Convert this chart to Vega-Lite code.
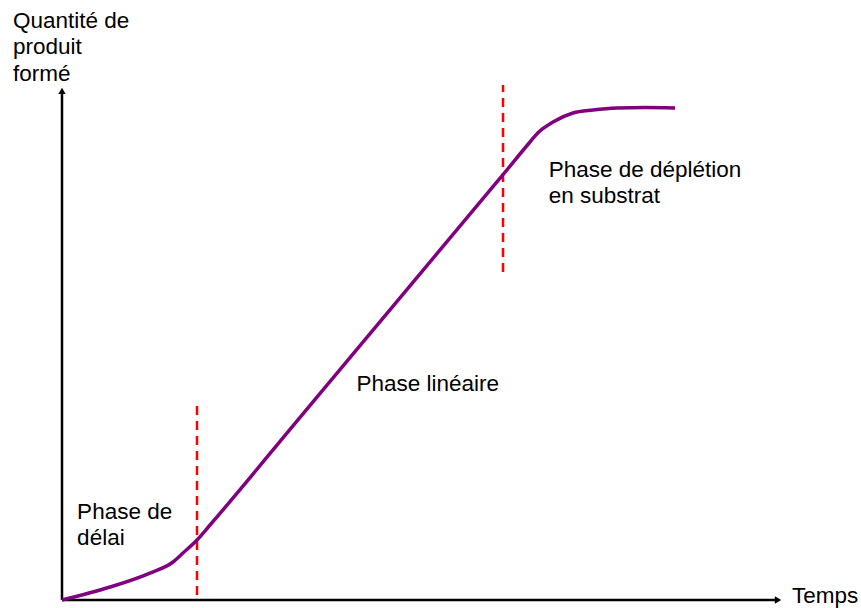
{
  "$schema": "https://vega.github.io/schema/vega-lite/v6.json",
  "width": 861,
  "height": 608,
  "padding": 0,
  "autosize": {"type": "fit", "contains": "padding"},
  "config": {"view": {"stroke": null}, "background": "white"},
  "datasets": {
    "curve": [
      {"t": 0, "q": 0},
      {"t": 6.67, "q": 2.53},
      {"t": 12.22, "q": 5.26},
      {"t": 15.42, "q": 7.41},
      {"t": 16.81, "q": 9.16},
      {"t": 18.75, "q": 11.7},
      {"t": 20.56, "q": 14.62},
      {"t": 33.06, "q": 35.6},
      {"t": 46.94, "q": 58.91},
      {"t": 61.25, "q": 82.92},
      {"t": 65.0, "q": 89.28},
      {"t": 66.11, "q": 91.1},
      {"t": 68.19, "q": 93.18},
      {"t": 70.97, "q": 94.93},
      {"t": 73.75, "q": 95.52},
      {"t": 77.08, "q": 95.91},
      {"t": 80.97, "q": 96.0},
      {"t": 85.14, "q": 95.91}
    ],
    "phases": [
      {"t": 18.75, "q": 0.97, "q2": 38.01},
      {"t": 61.25, "q": 63.94, "q2": 100.39}
    ],
    "axes": [
      {"t": 0, "q": 0, "t2": 99.2, "q2": 0},
      {"t": 0, "q": 0, "t2": 0, "q2": 98.8}
    ],
    "arrows": [
      {"t": 99.45, "q": 0, "shape": "triangle-right"},
      {"t": 0, "q": 99.25, "shape": "triangle-up"}
    ],
    "labels": [
      {"t": -6.8, "q": 111.5, "label": "Quantité de"},
      {"t": -6.8, "q": 106.4, "label": "produit"},
      {"t": -6.8, "q": 101.2, "label": "formé"},
      {"t": 2.1, "q": 15.8, "label": "Phase de"},
      {"t": 2.1, "q": 10.7, "label": "délai"},
      {"t": 40.9, "q": 40.8, "label": "Phase linéaire"},
      {"t": 67.6, "q": 82.4, "label": "Phase de déplétion"},
      {"t": 67.6, "q": 77.4, "label": "en substrat"},
      {"t": 101.4, "q": -0.65, "label": "Temps"}
    ]
  },
  "encoding": {
    "x": {"field": "t", "type": "quantitative", "scale": {"domain": [-8.611, 110.97], "nice": false, "zero": false}, "axis": null},
    "y": {"field": "q", "type": "quantitative", "scale": {"domain": [-1.559, 116.96], "nice": false, "zero": false}, "axis": null}
  },
  "layer": [
    {
      "data": {"name": "axes"},
      "mark": {"type": "rule", "color": "black", "strokeWidth": 2.5},
      "encoding": {"x2": {"field": "t2"}, "y2": {"field": "q2"}}
    },
    {
      "data": {"name": "arrows"},
      "mark": {"type": "point", "filled": true, "color": "black", "size": 55, "opacity": 1},
      "encoding": {"shape": {"field": "shape", "type": "nominal", "scale": null}}
    },
    {
      "data": {"name": "phases"},
      "mark": {"type": "rule", "color": "#ff0000", "strokeWidth": 2.5, "strokeDash": [9, 6]},
      "encoding": {"y2": {"field": "q2"}}
    },
    {
      "data": {"name": "curve"},
      "mark": {"type": "line", "color": "#800080", "strokeWidth": 3.5, "interpolate": "monotone"}
    },
    {
      "data": {"name": "labels"},
      "mark": {"type": "text", "align": "left", "baseline": "alphabetic", "font": "Liberation Sans", "fontSize": 22.5, "color": "black"},
      "encoding": {"text": {"field": "label", "type": "nominal"}}
    }
  ]
}
